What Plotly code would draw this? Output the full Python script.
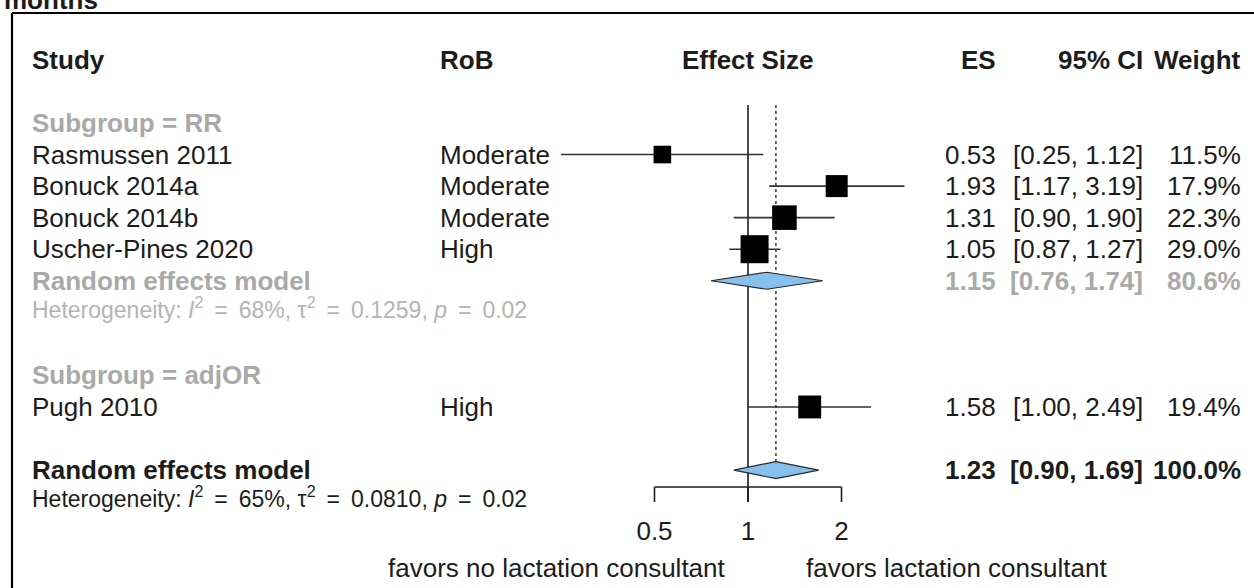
import math
import plotly.graph_objects as go

# ---------------- data ----------------
studies = ["Rasmussen 2011", "Bonuck 2014a", "Bonuck 2014b", "Uscher-Pines 2020", "Pugh 2010"]
rob = ["Moderate", "Moderate", "Moderate", "High", "High"]
es = [0.53, 1.93, 1.31, 1.05, 1.58]
ci_lo = [0.25, 1.17, 0.90, 0.87, 1.00]
ci_hi = [1.12, 3.19, 1.90, 1.27, 2.49]
weights = [11.5, 17.9, 22.3, 29.0, 19.4]
study_rows = [1, 2, 3, 4, 9]

subgroup_labels = ["Subgroup = RR", "Subgroup = adjOR"]
subgroup_rows = [0, 8]

pooled_labels = ["Random effects model", "Random effects model"]
pooled_es = [1.15, 1.23]
pooled_lo = [0.76, 0.90]
pooled_hi = [1.74, 1.69]
pooled_w = [80.6, 100.0]
pooled_rows = [5, 11]

het_i2 = ["68%", "65%"]
het_tau2 = ["0.1259", "0.0810"]
het_p = ["0.02", "0.02"]
het_rows = [5.85, 11.85]

tick_vals = [0.5, 1, 2]
tick_text = ["0.5", "1", "2"]
label_left = "favors no lactation consultant"
label_right = "favors lactation consultant"
title_text = "months"
col_headers = ["Study", "RoB", "Effect Size", "ES", "95% CI", "Weight"]

# ---------------- layout constants ----------------
W, H = 1254, 588
FONT = "Liberation Sans, Arial, Helvetica, sans-serif"
BLACK = "#1c1c1c"
GREY = "#a9a9a9"
GREY2 = "#b4b4b4"
FS = 26
FS_HET = 23

# x: log scale; reference line at pixel 748, one doubling = 93.5 px
X_REF_PX, PX_PER_DOUBLING = 748.0, 93.5
def px_to_log10(px):
    return (px - X_REF_PX) / PX_PER_DOUBLING * math.log10(2)
x_range = [px_to_log10(0), px_to_log10(W)]

# y: row index; row 0 at pixel 123, pitch 31.55 px
ROW0_PX, PITCH = 123.0, 31.55
def px_to_row(py):
    return (py - ROW0_PX) / PITCH
y_range = [px_to_row(H), px_to_row(0)]

HEADER_ROW = px_to_row(60)
AXIS_ROW = px_to_row(487)
TICK_END_ROW = px_to_row(502)
TICKLAB_ROW = px_to_row(533)
FAVORS_ROW = px_to_row(568)
LINE_TOP_ROW = px_to_row(105)
DIAM_H = 8.5 / PITCH

def px(xp):
    return xp / W

fig = go.Figure()

# reference (no effect) line
fig.add_trace(go.Scatter(x=[1, 1], y=[LINE_TOP_ROW, TICK_END_ROW], mode="lines",
                         line=dict(color=BLACK, width=1.6), hoverinfo="skip", showlegend=False))
# pooled-effect dotted line
fig.add_trace(go.Scatter(x=[pooled_es[1], pooled_es[1]], y=[LINE_TOP_ROW, pooled_rows[1] - DIAM_H],
                         mode="lines", line=dict(color="#444444", width=1.6, dash="dot"),
                         hoverinfo="skip", showlegend=False))

# CI lines
for lo, hi, r in zip(ci_lo, ci_hi, study_rows):
    fig.add_trace(go.Scatter(x=[lo, hi], y=[r, r], mode="lines",
                             line=dict(color="#333333", width=1.6), hoverinfo="skip", showlegend=False))

# squares sized by weight
fig.add_trace(go.Scatter(
    x=es, y=study_rows, mode="markers",
    marker=dict(symbol="square", color="black", opacity=1,
                size=[5.2 * math.sqrt(w) for w in weights], line=dict(width=0)),
    opacity=1, hoverinfo="skip", showlegend=False))

# diamonds
for e, lo, hi, r in zip(pooled_es, pooled_lo, pooled_hi, pooled_rows):
    fig.add_trace(go.Scatter(
        x=[lo, e, hi, e, lo], y=[r, r - DIAM_H, r, r + DIAM_H, r],
        mode="lines", fill="toself", fillcolor="#86C0EC",
        line=dict(color="#2a2a2a", width=1.2), hoverinfo="skip", showlegend=False))

# bottom axis
fig.add_trace(go.Scatter(x=[tick_vals[0], tick_vals[-1]], y=[AXIS_ROW, AXIS_ROW], mode="lines",
                         line=dict(color=BLACK, width=1.6), hoverinfo="skip", showlegend=False))
for tv in tick_vals:
    fig.add_trace(go.Scatter(x=[tv, tv], y=[AXIS_ROW, TICK_END_ROW], mode="lines",
                             line=dict(color=BLACK, width=1.6), hoverinfo="skip", showlegend=False))
fig.add_trace(go.Scatter(x=tick_vals, y=[TICKLAB_ROW] * len(tick_vals), mode="text",
                         text=tick_text, textposition="middle center",
                         textfont=dict(family=FONT, size=FS, color=BLACK),
                         hoverinfo="skip", showlegend=False))

ann = []
def add_text(x_px, row, text, anchor="left", size=FS, color=BLACK, bold=False):
    t = f"<b>{text}</b>" if bold else text
    ann.append(dict(x=px(x_px), xref="paper", y=row, yref="y", text=t, showarrow=False,
                    xanchor=anchor, yanchor="middle",
                    font=dict(family=FONT, size=size, color=color)))

# title fragment (cut off at top, as in the source image)
add_text(2, px_to_row(0), title_text, bold=True)

# headers
STUDY_X, ROB_X, ES_R, CI_R, W_R = 30, 438, 998, 1145, 1243
add_text(STUDY_X, HEADER_ROW, col_headers[0], bold=True)
add_text(ROB_X, HEADER_ROW, col_headers[1], bold=True)
add_text(748, HEADER_ROW, col_headers[2], anchor="center", bold=True)
add_text(ES_R, HEADER_ROW, col_headers[3], anchor="right", bold=True)
add_text(CI_R, HEADER_ROW, col_headers[4], anchor="right", bold=True)
add_text(W_R, HEADER_ROW, col_headers[5], anchor="right", bold=True)

for lab, r in zip(subgroup_labels, subgroup_rows):
    add_text(STUDY_X, r, lab, color=GREY, bold=True)

for s, rb, e, lo, hi, w, r in zip(studies, rob, es, ci_lo, ci_hi, weights, study_rows):
    add_text(STUDY_X, r, s)
    add_text(ROB_X, r, rb)
    add_text(ES_R, r, f"{e:.2f}", anchor="right")
    add_text(CI_R, r, f"[{lo:.2f}, {hi:.2f}]", anchor="right")
    add_text(W_R, r, f"{w:.1f}%", anchor="right")

for i, (lab, e, lo, hi, w, r) in enumerate(zip(pooled_labels, pooled_es, pooled_lo, pooled_hi, pooled_w, pooled_rows)):
    col = GREY if i == 0 else BLACK
    add_text(STUDY_X, r, lab, color=col, bold=True)
    add_text(ES_R, r, f"{e:.2f}", anchor="right", color=col, bold=True)
    add_text(CI_R, r, f"[{lo:.2f}, {hi:.2f}]", anchor="right", color=col, bold=True)
    add_text(W_R, r, f"{w:.1f}%", anchor="right", color=col, bold=True)

EQ = " \u2009=\u2009 "
for i, (i2, t2, p, r) in enumerate(zip(het_i2, het_tau2, het_p, het_rows)):
    txt = (f"Heterogeneity: <i>I</i><sup>2</sup>{EQ}{i2}, τ<sup>2</sup>{EQ}{t2}, "
           f"<i>p</i>{EQ}{p}")
    add_text(STUDY_X, r, txt, size=FS_HET, color=GREY2 if i == 0 else BLACK)

add_text(728, FAVORS_ROW, label_left, anchor="right")
add_text(804, FAVORS_ROW, label_right, anchor="left")

# frame (top and left edges of the panel box)
shapes = [
    dict(type="line", xref="paper", yref="paper", x0=px(12), x1=1.0, y0=1 - 13 / H, y1=1 - 13 / H,
         line=dict(color="black", width=2.2)),
    dict(type="line", xref="paper", yref="paper", x0=px(12), x1=px(12), y0=0, y1=1 - 13 / H,
         line=dict(color="black", width=2.2)),
]

fig.update_layout(
    width=W, height=H, margin=dict(l=0, r=0, t=0, b=0),
    paper_bgcolor="white", plot_bgcolor="white",
    xaxis=dict(type="log", range=x_range, domain=[0, 1], visible=False, fixedrange=True),
    yaxis=dict(range=y_range, domain=[0, 1], visible=False, fixedrange=True),
    annotations=ann, shapes=shapes, showlegend=False, hovermode=False,
)

fig.write_html("out.html", config={"displayModeBar": False, "staticPlot": True},
               post_script="document.body.style.margin='0';")
